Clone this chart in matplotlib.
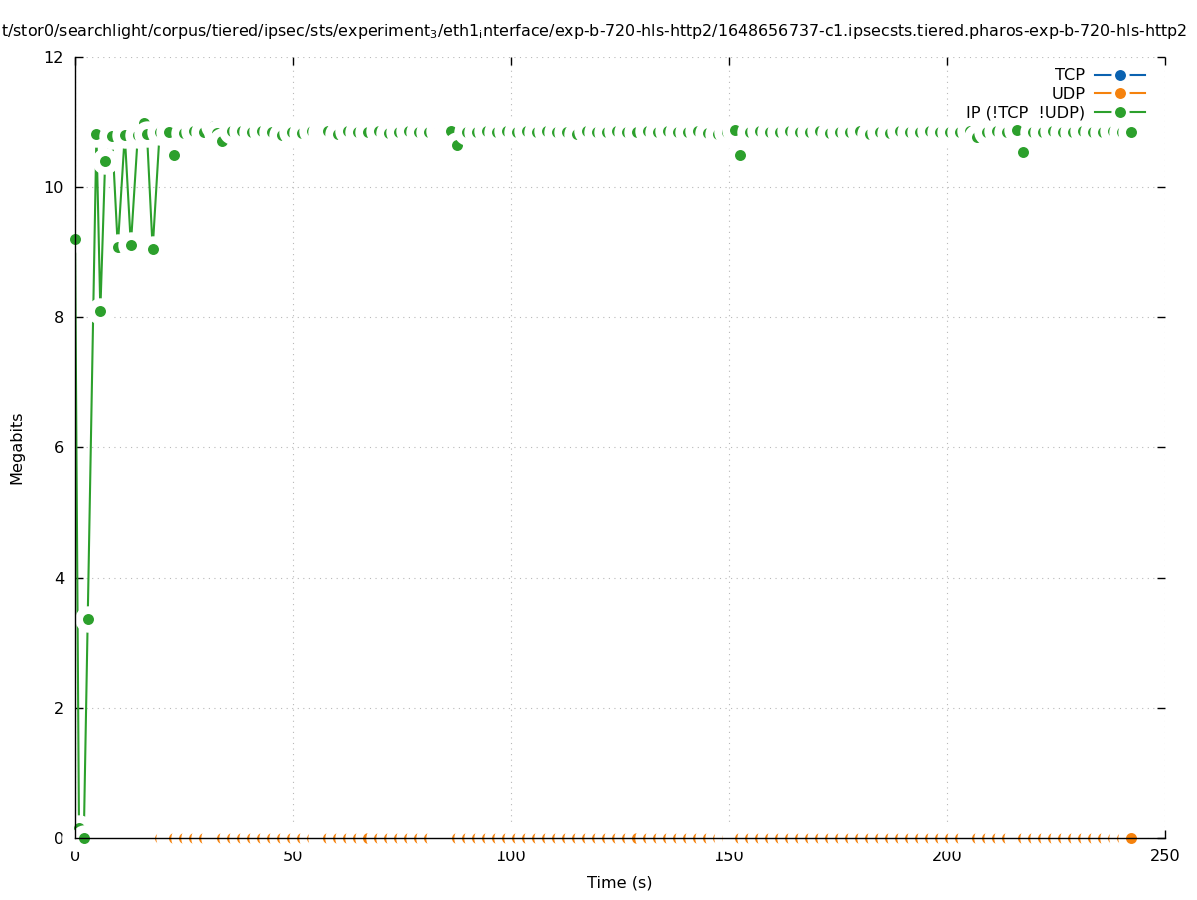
import matplotlib
matplotlib.use("Agg")
import matplotlib.pyplot as plt
from matplotlib.lines import Line2D

# sample times (s) and IP (!TCP !UDP) throughput (Megabits)
times = [0.0, 0.9, 2.0, 2.9, 4.9, 5.8, 6.9, 8.5, 9.8, 11.4,
         12.8, 14.4, 15.8, 16.5, 17.8, 19.4, 21.5, 22.7, 25.0, 27.3,
         29.6, 31.8, 32.5, 33.6, 35.9, 38.2, 40.5, 42.8, 45.1, 47.4,
         49.7, 52.0, 54.3, 56.3, 58.1, 60.4, 62.7, 65.0, 67.3, 69.6,
         71.9, 74.2, 76.5, 78.8, 81.1, 83.4, 85.0, 86.3, 87.6, 89.9,
         92.2, 94.5, 96.8, 99.1, 101.4, 103.7, 106.0, 108.3, 110.6, 112.9,
         115.2, 117.5, 119.8, 122.1, 124.4, 126.7, 129.0, 131.3, 133.6, 135.9,
         138.2, 140.5, 142.8, 145.1, 147.4, 149.5, 151.3, 152.4, 154.7, 157.0,
         159.3, 161.6, 163.9, 166.2, 168.5, 170.8, 173.1, 175.4, 177.7, 180.0,
         182.3, 184.6, 186.9, 189.2, 191.5, 193.8, 196.1, 198.4, 200.7, 203.0,
         205.3, 206.8, 209.1, 211.4, 213.7, 216.0, 217.4, 219.7, 222.0, 224.3,
         226.6, 228.9, 231.2, 233.5, 235.8, 238.1, 240.2, 242.3]

ip_mbits = [9.20, 0.15, 0.00, 3.36, 10.81, 8.10, 10.40, 10.78, 9.08, 10.80,
            9.11, 10.80, 10.98, 10.81, 9.05, 10.84, 10.85, 10.49, 10.83, 10.86,
            10.84, 10.94, 10.83, 10.71, 10.86, 10.87, 10.85, 10.86, 10.84, 10.80,
            10.85, 10.83, 10.86, 10.85, 10.86, 10.82, 10.87, 10.85, 10.84, 10.86,
            10.83, 10.85, 10.86, 10.84, 10.85, 10.86, 10.84, 10.86, 10.65, 10.85,
            10.84, 10.86, 10.85, 10.87, 10.85, 10.86, 10.84, 10.86, 10.85, 10.84,
            10.82, 10.86, 10.85, 10.84, 10.86, 10.85, 10.84, 10.86, 10.85, 10.86,
            10.84, 10.85, 10.86, 10.83, 10.82, 10.85, 10.88, 10.49, 10.85, 10.86,
            10.84, 10.85, 10.86, 10.84, 10.85, 10.86, 10.83, 10.85, 10.84, 10.86,
            10.82, 10.85, 10.83, 10.87, 10.85, 10.84, 10.86, 10.85, 10.84, 10.85,
            10.86, 10.77, 10.85, 10.86, 10.84, 10.88, 10.54, 10.85, 10.84, 10.86,
            10.85, 10.84, 10.86, 10.85, 10.84, 10.86, 10.85, 10.85]

# TCP and UDP stay at zero the whole capture
tcp_mbits = [0.0] * len(times)
udp_mbits = [0.0] * len(times)

labels = ["TCP", "UDP", "IP (!TCP  !UDP)"]
colors = ["#0b62b0", "#f5820d", "#2ca02c"]

title = ("t/stor0/searchlight/corpus/tiered/ipsec/sts/experiment$_3$/eth1$_\\mathrm{i}$nterface/"
         "exp-b-720-hls-http2/1648656737-c1.ipsecsts.tiered.pharos-exp-b-720-hls-http2")

FS = 11.6
DOT = 7.9      # point size (pt)
HOLE = 19      # white disc behind each point (pt)


def draw_linespoints(ax, t, v, color, base_z):
    # gnuplot-style linespoints: line first, then for every point a white
    # disc followed by the point itself
    ax.plot(t, v, color=color, lw=1.5, zorder=base_z)
    step = 0.4 / len(t)
    for i, (x, y) in enumerate(zip(t, v)):
        ax.plot(x, y, "o", ms=HOLE, color="white", mew=0,
                zorder=base_z + step * (2 * i + 1), clip_on=False)
        ax.plot(x, y, "o", ms=DOT, color=color, mew=0,
                zorder=base_z + step * (2 * i + 2), clip_on=False)


fig = plt.figure(figsize=(11.97, 9.0), dpi=100)
ax = fig.add_axes([0.0627, 0.0689, 0.9106, 0.8678])

series = [tcp_mbits, udp_mbits, ip_mbits]
for k, (vals, color) in enumerate(zip(series, colors)):
    draw_linespoints(ax, times, vals, color, 2 + k)

ax.set_xlim(0, 250)
ax.set_ylim(0, 12)
ax.set_xticks(range(0, 251, 50))
ax.set_yticks(range(0, 13, 2))
ax.grid(True, linestyle=(0, (1, 4)), color="#b8b8b8", linewidth=0.8)
ax.tick_params(direction="in", length=6, width=1, labelsize=FS,
               top=True, right=True, pad=8)
for side in ["top", "right"]:
    ax.spines[side].set_visible(False)
for side in ["left", "bottom"]:
    ax.spines[side].set_zorder(10)
    ax.spines[side].set_linewidth(1)

ax.set_xlabel("Time (s)", fontsize=FS, labelpad=8)
ax.set_ylabel("Megabits", fontsize=FS, labelpad=14)

fig.text(0.001, 0.965, title, ha="left", va="center", fontsize=11.4)

# legend sample: line with a point, white ring cuts the line around it
handles = [Line2D([], [], color=c, lw=1.5, marker="o", ms=DOT + 2.6,
                  mfc=c, mec="white", mew=2.6) for c in colors]
ax.legend(handles, labels, loc="upper right", bbox_to_anchor=(0.989, 0.996),
          frameon=False, markerfirst=False, numpoints=1, handlelength=3.1,
          handletextpad=0.6, labelspacing=0.22, borderpad=0, fontsize=FS)

plt.savefig("out.png", dpi=100)
